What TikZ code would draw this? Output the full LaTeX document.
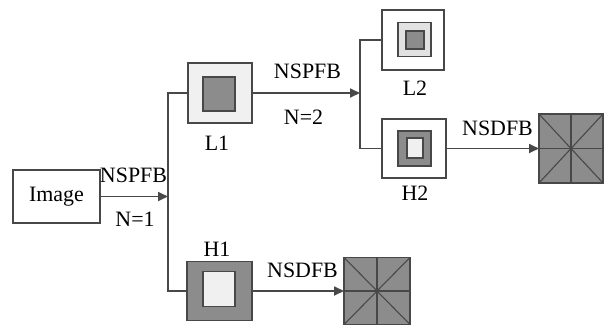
\documentclass[tikz,border=0pt]{standalone}
\usepackage{fontspec}
\setmainfont{Liberation Serif}
\usetikzlibrary{arrows.meta}
\definecolor{edge}{HTML}{484848}
\definecolor{midgray}{HTML}{8C8C8C}
\definecolor{lightgray}{HTML}{F0F0F0}
\definecolor{palegray}{HTML}{E2E2E2}
\begin{document}
\begin{tikzpicture}[x=1bp,y=-1bp]

    \tikzset{
      frame/.style 2 args={
        draw=edge,
        line width=1.3bp,
        inner sep=0pt,
        outer sep=0pt,
        minimum width=#1bp,
        minimum height=#2bp,
      },
      lbl/.style={inner sep=0pt, font=\fontsize{22}{26}\selectfont},
      conn/.style={draw=edge, line width=1.7bp},
      arr/.style={conn, -{Triangle[length=10bp,width=9bp]}},
      spoke/.style={draw=edge, line width=1.1bp},
    }
    \useasboundingbox (0,0) rectangle (607,329);
	% input
	\node[frame={87}{53}, fill=white, lbl] (image) at (56.5,196.5) {Image};
	\coordinate (split1) at (168,196.5);
	% level 1
	\node[frame={64}{60}, fill=lightgray] (lone) at (220,93) {};
	\node[frame={32}{34}, fill=midgray] (loneIn) at (219,94) {};
	\node[frame={65}{59}, fill=midgray] (hone) at (219.5,291) {};
	\node[frame={32}{35}, fill=lightgray] (honeIn) at (219,289) {};
	\coordinate (split2) at (360,93);
	% level 2
	\node[frame={62}{60}, fill=white] (ltwo) at (413,40) {};
	\node[frame={33}{34}, fill=palegray] (ltwoMid) at (414.5,39.5) {};
	\node[frame={18}{18}, fill=midgray] (ltwoIn) at (415,40) {};
	\node[frame={64}{59}, fill=white] (htwo) at (414,148.5) {};
	\node[frame={33}{35}, fill=midgray] (htwoMid) at (414.5,148.5) {};
	\node[frame={16}{20}, fill=lightgray] (htwoIn) at (415,148) {};
	% directional bands
	\node[frame={66}{67}, fill=midgray] (dirone) at (377,291) {};
	\node[frame={64}{69}, fill=midgray] (dirtwo) at (571,148.5) {};
	\foreach \d in {dirone,dirtwo} {
	  \draw[spoke] (\d.north west) -- (\d.south east);
	  \draw[spoke] (\d.north east) -- (\d.south west);
	  \draw[spoke] (\d.north) -- (\d.south);
	  \draw[spoke] (\d.west) -- (\d.east);
	}
	% connectors
	\draw[arr] (image) -- (split1);
	\draw[conn] (lone.west) -| (split1) |- (hone.west);
	\draw[arr] (lone.east) -- (split2);
	\draw[conn] (ltwo.west) -| (split2) |- (htwo.west);
	\draw[arr] (htwo.east) -- (dirtwo.west);
	\draw[arr] (hone.east) -- (dirone.west);
	% labels
	\node[lbl] (nspfbOne) at (133.5,175) {NSPFB};
	\node[lbl] (levOne) at (135,219) {N=1};
	\node[lbl] (loneLbl) at (217,143.5) {L1};
	\node[lbl] (honeLbl) at (217,249) {H1};
	\node[lbl] (nspfbTwo) at (307.5,71) {NSPFB};
	\node[lbl] (levTwo) at (303.5,117) {N=2};
	\node[lbl] (ltwoLbl) at (415,88.5) {L2};
	\node[lbl] (htwoLbl) at (415,193) {H2};
	\node[lbl] (nsdfbTwo) at (497.5,128.5) {NSDFB};
	\node[lbl] (nsdfbOne) at (302.5,270) {NSDFB};

\end{tikzpicture}
\end{document}
